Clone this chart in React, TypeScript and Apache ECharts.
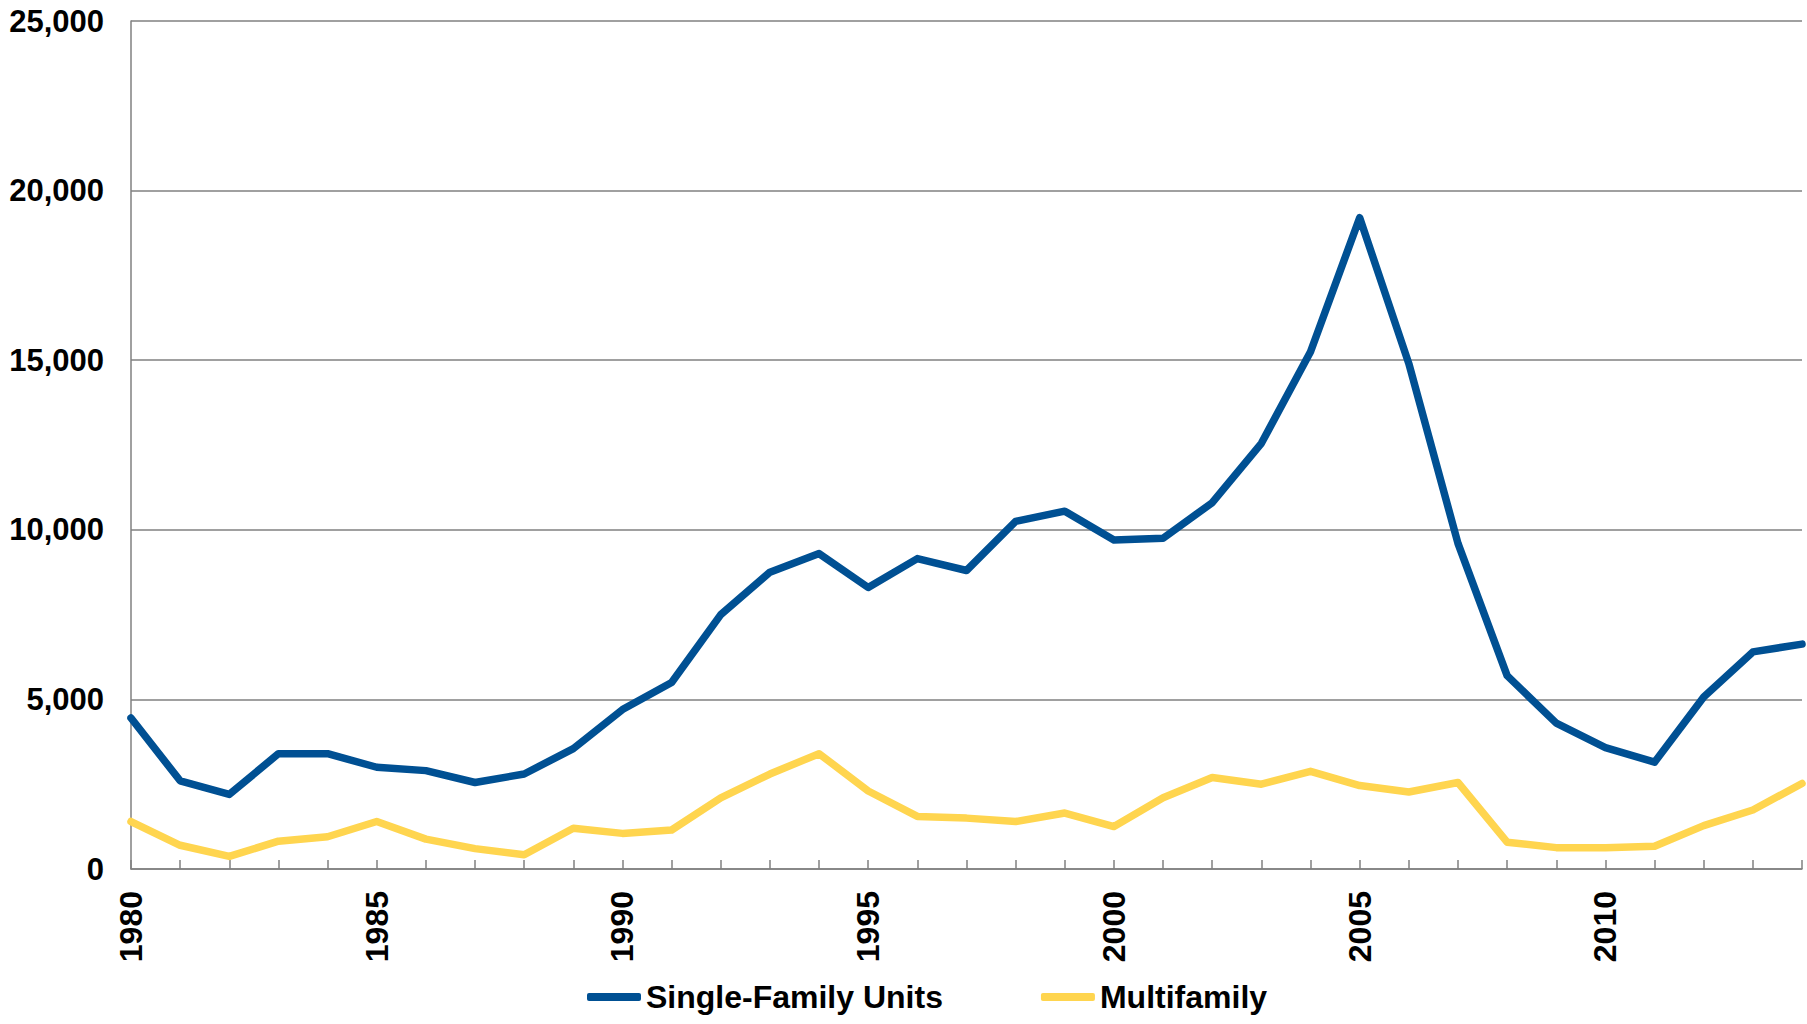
import React, { useEffect, useRef } from "react";
import * as echarts from "echarts";

const years: string[] = [
  "1980", "1981", "1982", "1983", "1984", "1985", "1986", "1987", "1988", "1989",
  "1990", "1991", "1992", "1993", "1994", "1995", "1996", "1997", "1998", "1999",
  "2000", "2001", "2002", "2003", "2004", "2005", "2006", "2007", "2008", "2009",
  "2010", "2011", "2012", "2013", "2014",
];

const singleFamily: number[] = [
  4450, 2600, 2200, 3400, 3400, 3000, 2900, 2550, 2800, 3550,
  4700, 5500, 7500, 8750, 9300, 8300, 9150, 8800, 10250, 10550,
  9700, 9750, 10800, 12550, 15250, 19200, 14900, 9600, 5700, 4300,
  3580, 3150, 5070, 6400, 6630,
];

const multifamily: number[] = [
  1400, 700, 370, 820, 950, 1400, 880, 600, 420, 1200,
  1050, 1150, 2100, 2800, 3400, 2300, 1550, 1500, 1400, 1650,
  1250, 2100, 2700, 2500, 2880, 2460, 2270, 2550, 790, 630,
  630, 670, 1280, 1740, 2520,
];

const yTicks = { min: 0, max: 25000, interval: 5000 };

const FONT = "'Liberation Sans', Arial, sans-serif";
const BLUE = "#005093";
const YELLOW = "#FFD54F";
const GRID = "#808080";

export default function App() {
  const ref = useRef<HTMLDivElement>(null);

  useEffect(() => {
    if (!ref.current) return;
    const chart = echarts.init(ref.current, null, { renderer: "svg" });
    chart.setOption({
      animation: false,
      backgroundColor: "#ffffff",
      grid: { left: 131, right: 5, top: 21, bottom: 155, containLabel: false },
      legend: {
        bottom: 6,
        left: 582,
        itemGap: 98,
        itemWidth: 54,
        itemHeight: 8,
        icon: "roundRect",
        textStyle: { fontFamily: FONT, fontWeight: "bold", fontSize: 32, color: "#000" },
        data: ["Single-Family Units", "Multifamily"],
      },
      xAxis: {
        type: "category",
        data: years,
        boundaryGap: false,
        axisLine: { show: true, lineStyle: { color: GRID, width: 1.5 } },
        axisTick: { show: true, inside: true, interval: 0, length: 9, lineStyle: { color: GRID, width: 1.5 } },
        axisLabel: {
          interval: 4,
          rotate: 90,
          margin: 22,
          fontFamily: FONT,
          fontWeight: "bold",
          fontSize: 32,
          color: "#000",
        },
        splitLine: { show: false },
      },
      yAxis: {
        type: "value",
        min: yTicks.min,
        max: yTicks.max,
        interval: yTicks.interval,
        axisLine: { show: true, lineStyle: { color: GRID, width: 1.5 } },
        axisTick: { show: false },
        axisLabel: {
          margin: 27,
          fontFamily: FONT,
          fontWeight: "bold",
          fontSize: 31,
          color: "#000",
          formatter: (v: number) => v.toLocaleString("en-US"),
        },
        splitLine: { show: true, lineStyle: { color: GRID, width: 1.5 } },
      },
      series: [
        {
          name: "Single-Family Units",
          type: "line",
          data: singleFamily,
          symbol: "none",
          showSymbol: false,
          color: BLUE,
          lineStyle: { color: BLUE, width: 7.5, cap: "round", join: "round" },
          z: 3,
        },
        {
          name: "Multifamily",
          type: "line",
          data: multifamily,
          symbol: "none",
          showSymbol: false,
          color: YELLOW,
          lineStyle: { color: YELLOW, width: 7.5, cap: "round", join: "round" },
          z: 2,
        },
      ],
    });
    return () => chart.dispose();
  }, []);

  return <div ref={ref} style={{ width: 1807, height: 1024, position: "absolute", left: 0, top: 0 }} />;
}
